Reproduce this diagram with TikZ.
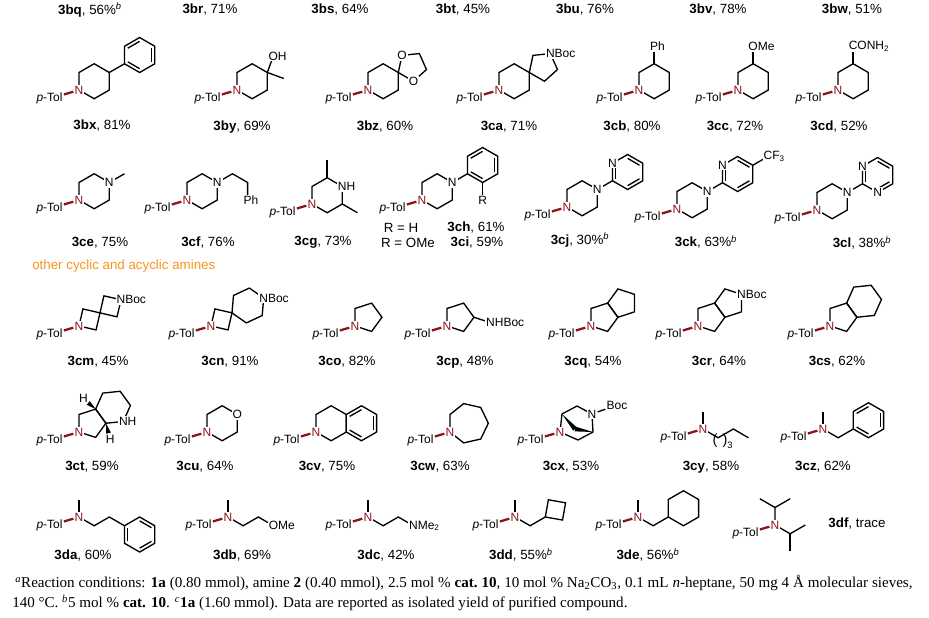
\documentclass[tikz,border=0pt]{standalone}
\usepackage{fontspec}
\setmainfont{Liberation Serif}
\newfontfamily\chemsf{Liberation Sans}
\usetikzlibrary{calc}
\definecolor{nred}{RGB}{140,20,25}
\definecolor{amber}{RGB}{247,148,29}
\def\bl{17.5}
% ring: name, sides, start point, first direction, turn
\newcommand\ring[5]{%
  \pgfmathtruncatemacro\ringlast{#2-1}%
  \draw[bond](#3)coordinate(#1-0) \foreach \k in {1,...,\ringlast}{--++({#4+(\k-1)*(#5)}:\bl)coordinate(#1-\k)}--cycle;
  \path(#1-0)++({#4+(#5)/abs(#5)*(90-180/#2)}:{\bl/(2*sin(180/#2))})coordinate(#1c);}
\newcommand\arom[3]{\draw[bond]($(#1-#2)!.22!(#1c)$)--($(#1-#3)!.22!(#1c)$);}
\newcommand\wdg[2]{\fill(#1)--($(#2)!1.8pt!90:(#1)$)--($(#2)!1.8pt!-90:(#1)$)--cycle;}
\newcommand\tolN[1]{%
  \node[natom](#1N)at(0,0){N};
  \node[atom,fill=none,anchor=east](#1T)at(210:\bl){\textit{p}-Tol};
  \draw[tolbond](#1T)--(#1N);}
\tikzset{
  bond/.style={line width=1pt},
  tolbond/.style={nred,line width=1.7pt},
  atom/.style={font=\chemsf\fontsize{9}{10}\selectfont,inner sep=.8pt,fill=white},
  natom/.style={atom,text=nred},
  lbl/.style={font=\chemsf\fontsize{10}{12}\selectfont,inner sep=0pt},
  note/.style={font=\fontsize{11.3}{13}\selectfont,inner sep=0pt,anchor=west},
  mol/.style={shift={#1},yscale=-1}
}
\begin{document}
\begin{tikzpicture}[x=.75pt,y=-.75pt]
\useasboundingbox(0,0)rectangle(929,618);
%% labels of the row above
\foreach \x/\t in {90/{\textbf{3bq}, 56\%\textsuperscript{\textit{b}}},210/{\textbf{3br}, 71\%},340/{\textbf{3bs}, 64\%},463/{\textbf{3bt}, 45\%},585/{\textbf{3bu}, 76\%},718/{\textbf{3bv}, 78\%},852/{\textbf{3bw}, 51\%}}
  \node[lbl](top\x)at(\x,10){\t};

%% row 1
\begin{scope}[mol={(79,90)}]
\ring{bxr}{6}{0,0}{90}{-60}
\draw[bond](bxr-3)--++(30:\bl)coordinate(bxi);
\ring{bxp}{6}{bxi}{90}{-60}\arom{bxp}{1}{2}\arom{bxp}{3}{4}\arom{bxp}{5}{0}
\tolN{bx}
\end{scope}
\begin{scope}[mol={(237,90)}]
\ring{byr}{6}{0,0}{90}{-60}
\draw[bond](byr-3)--++(70:\bl)coordinate(byo);
\draw[bond](byr-3)--++(-20:\bl);
\node[atom](byO)at(byo){O\rlap{H}};
\tolN{by}
\end{scope}
\begin{scope}[mol={(368,90)}]
\ring{bzr}{6}{0,0}{90}{-60}
\ring{bzd}{5}{bzr-3}{78}{-72}
\node[atom](bzO1)at(bzd-1){O};
\node[atom](bzO2)at(bzd-4){O};
\tolN{bz}
\end{scope}
\begin{scope}[mol={(499,90)}]
\ring{car}{6}{0,0}{90}{-60}
\ring{cap}{5}{car-3}{78}{-72}
\node[atom](caB)at(cap-2){N\rlap{Boc}};
\tolN{ca}
\end{scope}
\begin{scope}[mol={(639,90)}]
\ring{cbr}{6}{0,0}{90}{-60}
\draw[bond](cbr-2)--++(90:\bl)coordinate(cbs);
\node[atom](cbPh)at(cbs){P\rlap{h}};
\tolN{cb}
\end{scope}
\begin{scope}[mol={(738,90)}]
\ring{ccr}{6}{0,0}{90}{-60}
\draw[bond](ccr-2)--++(90:\bl)coordinate(ccs);
\node[atom](ccO)at(ccs){O\rlap{Me}};
\tolN{cc}
\end{scope}
\begin{scope}[mol={(838,90)}]
\ring{cdr}{6}{0,0}{90}{-60}
\draw[bond](cdr-2)--++(90:\bl)coordinate(cds);
\node[atom](cdC)at(cds){C\rlap{ONH\textsubscript{2}}};
\tolN{cd}
\end{scope}
\node[lbl](lbx)at(102,126){\textbf{3bx}, 81\%};
\node[lbl](lby)at(242,127){\textbf{3by}, 69\%};
\node[lbl](lbz)at(385,127){\textbf{3bz}, 60\%};
\node[lbl](lca)at(509,127){\textbf{3ca}, 71\%};
\node[lbl](lcb)at(632,127){\textbf{3cb}, 80\%};
\node[lbl](lcc)at(735,127){\textbf{3cc}, 72\%};
\node[lbl](lcd)at(839,127){\textbf{3cd}, 52\%};

%% row 2
\begin{scope}[mol={(79,200)}]
\ring{cer}{6}{0,0}{90}{-60}
\draw[bond](cer-3)--++(30:\bl);
\node[atom](ceN2)at(cer-3){N};
\tolN{ce}
\end{scope}
\begin{scope}[mol={(187,200)}]
\ring{cfr}{6}{0,0}{90}{-60}
\draw[bond](cfr-3)--++(30:\bl)--++(-30:\bl)--++(-90:\bl)coordinate(cfp);
\node[atom](cfN2)at(cfr-3){N};
\node[atom](cfPh)at(cfp){P\rlap{h}};
\tolN{cf}
\end{scope}
\begin{scope}[mol={(312,204)}]
\ring{cgr}{6}{0,0}{90}{-60}
\draw[bond](cgr-2)--++(90:\bl);
\draw[bond](cgr-4)--++(-30:\bl);
\node[atom](cgN2)at(cgr-3){N\rlap{H}};
\tolN{cg}
\end{scope}
\begin{scope}[mol={(422,200)}]
\ring{chr}{6}{0,0}{90}{-60}
\draw[bond](chr-3)--++(30:\bl)coordinate(chi);
\ring{cha}{6}{chi}{90}{-60}\arom{cha}{1}{2}\arom{cha}{3}{4}\arom{cha}{5}{0}
\draw[bond](cha-5)--++(-90:\bl)coordinate(chs);
\node[atom](chN2)at(chr-3){N};
\node[atom](chR)at(chs){R};
\tolN{ch}
\end{scope}
\begin{scope}[mol={(567,207)}]
\ring{cjr}{6}{0,0}{90}{-60}
\draw[bond](cjr-3)--++(30:\bl)coordinate(cji);
\ring{cja}{6}{cji}{90}{-60}\arom{cja}{0}{1}\arom{cja}{2}{3}\arom{cja}{4}{5}
\node[atom](cjN2)at(cjr-3){N};
\node[atom](cjN3)at(cja-1){N};
\tolN{cj}
\end{scope}
\begin{scope}[mol={(677,209)}]
\ring{ckr}{6}{0,0}{90}{-60}
\draw[bond](ckr-3)--++(30:\bl)coordinate(cki);
\ring{cka}{6}{cki}{90}{-60}\arom{cka}{0}{1}\arom{cka}{2}{3}\arom{cka}{4}{5}
\draw[bond](cka-3)--++(30:\bl)coordinate(ckf);
\node[atom](ckN2)at(ckr-3){N};
\node[atom](ckN3)at(cka-1){N};
\node[atom](ckC)at(ckf){C\rlap{F\textsubscript{3}}};
\tolN{ck}
\end{scope}
\begin{scope}[mol={(817,210)}]
\ring{clr}{6}{0,0}{90}{-60}
\draw[bond](clr-3)--++(30:\bl)coordinate(cli);
\ring{cla}{6}{cli}{90}{-60}\arom{cla}{0}{1}\arom{cla}{2}{3}\arom{cla}{4}{5}
\node[atom](clN2)at(clr-3){N};
\node[atom](clN3)at(cla-1){N};
\node[atom](clN4)at(cla-5){N};
\tolN{cl}
\end{scope}
\node[lbl](lce)at(100,243){\textbf{3ce}, 75\%};
\node[lbl](lcf)at(208,243){\textbf{3cf}, 76\%};
\node[lbl](lcg)at(323,242){\textbf{3cg}, 73\%};
\node[lbl](rh)at(401,228){R = H};
\node[lbl](rome)at(408,243){R = OMe};
\node[lbl](lch)at(476,228){\textbf{3ch}, 61\%};
\node[lbl](lci)at(477,243){\textbf{3ci}, 59\%};
\node[lbl](lcj)at(580,240){\textbf{3cj}, 30\%\textsuperscript{\textit{b}}};
\node[lbl](lck)at(706,242){\textbf{3ck}, 63\%\textsuperscript{\textit{b}}};
\node[lbl](lcl)at(862,243){\textbf{3cl}, 38\%\textsuperscript{\textit{b}}};

\node[lbl,text=amber,anchor=west](head)at(32,266){other cyclic and acyclic amines};

%% row 3
\begin{scope}[mol={(79,326)}]
\ring{cma}{4}{0,0}{77}{-90}
\ring{cmb}{4}{cma-2}{77}{-90}
\node[atom](cmB)at(cmb-2){N\rlap{Boc}};
\tolN{cm}
\end{scope}
\begin{scope}[mol={(211,326)}]
\ring{cna}{4}{0,0}{77}{-90}
\ring{cnb}{6}{cna-2}{85}{-60}
\node[atom](cnB)at(cnb-3){N\rlap{Boc}};
\tolN{cn}
\end{scope}
\begin{scope}[mol={(355,326)}]
\ring{cop}{5}{0,0}{90}{-72}
\tolN{co}
\end{scope}
\begin{scope}[mol={(447,326)}]
\ring{cpp}{5}{0,0}{90}{-72}
\draw[bond](cpp-3)--++(-18:\bl)coordinate(cps);
\node[atom](cpB)at(cps){N\rlap{HBoc}};
\tolN{cp}
\end{scope}
\begin{scope}[mol={(591,326)}]
\ring{cqa}{5}{0,0}{90}{-72}
\ring{cqb}{5}{cqa-3}{126}{-72}
\tolN{cq}
\end{scope}
\begin{scope}[mol={(698,326)}]
\ring{cra}{5}{0,0}{90}{-72}
\ring{crb}{5}{cra-3}{126}{-72}
\node[atom](crB)at(crb-3){N\rlap{Boc}};
\tolN{cr}
\end{scope}
\begin{scope}[mol={(830,326)}]
\ring{csa}{5}{0,0}{90}{-72}
\ring{csb}{6}{csa-3}{126}{-60}
\tolN{cs}
\end{scope}
\node[lbl](lcm)at(98,362){\textbf{3cm}, 45\%};
\node[lbl](lcn)at(230,362){\textbf{3cn}, 91\%};
\node[lbl](lco)at(347,362){\textbf{3co}, 82\%};
\node[lbl](lcp)at(465,362){\textbf{3cp}, 48\%};
\node[lbl](lcq)at(593,362){\textbf{3cq}, 54\%};
\node[lbl](lcr)at(719,362){\textbf{3cr}, 64\%};
\node[lbl](lcs)at(837,362){\textbf{3cs}, 62\%};

%% row 4
\begin{scope}[mol={(79,432)}]
\ring{cta}{5}{0,0}{90}{-72}
\ring{ctb}{6}{cta-3}{126}{-60}
\path(cta-2)++(140:16)coordinate(cth1);
\path(cta-3)++(-75:17)coordinate(cth2);
\wdg{cta-2}{$(cta-2)!.6!(cth1)$}
\wdg{cta-3}{$(cta-3)!.6!(cth2)$}
\node[atom,fill=none](ctH1)at(cth1){H};
\node[atom,fill=none](ctH2)at(cth2){H};
\node[atom](ctN2)at(ctb-5){N\rlap{H}};
\tolN{ct}
\end{scope}
\begin{scope}[mol={(207,432)}]
\ring{cur}{6}{0,0}{90}{-60}
\node[atom](cuO)at(cur-3){O};
\tolN{cu}
\end{scope}
\begin{scope}[mol={(316,432)}]
\ring{cvr}{6}{0,0}{90}{-60}
\ring{cvb}{6}{cvr-4}{90}{-60}\arom{cvb}{1}{2}\arom{cvb}{3}{4}\arom{cvb}{5}{0}
\tolN{cv}
\end{scope}
\begin{scope}[mol={(450,432)}]
\ring{cwr}{7}{0,0}{90}{-360/7}
\tolN{cw}
\end{scope}
\begin{scope}[mol={(560,432)}]
\coordinate(cx1)at(2,18);\coordinate(cx2)at(17,26);\coordinate(cx3)at(32,18);
\coordinate(cx4)at(33,0);\coordinate(cx5)at(18,-8);\coordinate(cx6)at(15,3);
\draw[bond](0,0)--(cx1)--(cx2)--(cx3)--(cx4)--(cx5)--cycle;
\wdg{cx1}{cx6}\wdg{cx4}{cx6}
\node[atom](cxN2)at(cx3){N};
\node[atom](cxB)at(57,27){Boc};
\draw[bond](cxN2)--(cxB);
\tolN{cx}
\end{scope}
\begin{scope}[mol={(703,429)}]
\draw[bond](0,0)--++(90:\bl);
\draw[bond](0,0)--++(-30:\bl)coordinate(cy1)--++(30:\bl)coordinate(cy2)--++(-30:\bl);
\node[lbl,inner sep=0pt,font=\chemsf\fontsize{11}{12}\selectfont](cyl)at(12,-12){(};
\node[lbl,inner sep=0pt,font=\chemsf\fontsize{11}{12}\selectfont](cyr)at(22,-12){)};
\node[atom,fill=none,font=\chemsf\fontsize{7}{8}\selectfont](cyn)at(27,-16){3};
\tolN{cy}
\end{scope}
\begin{scope}[mol={(823,429)}]
\draw[bond](0,0)--++(90:\bl);
\draw[bond](0,0)--++(-30:\bl)--++(30:\bl)coordinate(czi);
\ring{czp}{6}{czi}{90}{-60}\arom{czp}{1}{2}\arom{czp}{3}{4}\arom{czp}{5}{0}
\tolN{cz}
\end{scope}
\node[lbl](lct)at(92,467){\textbf{3ct}, 59\%};
\node[lbl](lcu)at(205,467){\textbf{3cu}, 64\%};
\node[lbl](lcv)at(327,467){\textbf{3cv}, 75\%};
\node[lbl](lcw)at(440,467){\textbf{3cw}, 63\%};
\node[lbl](lcx)at(571,467){\textbf{3cx}, 53\%};
\node[lbl](lcy)at(711,467){\textbf{3cy}, 58\%};
\node[lbl](lcz)at(823,467){\textbf{3cz}, 62\%};

%% row 5
\begin{scope}[mol={(79,517)}]
\draw[bond](0,0)--++(90:\bl);
\draw[bond](0,0)--++(-30:\bl)--++(30:\bl)--++(-30:\bl)coordinate(dai);
\ring{dap}{6}{dai}{30}{-60}\arom{dap}{1}{2}\arom{dap}{3}{4}\arom{dap}{5}{0}
\tolN{da}
\end{scope}
\begin{scope}[mol={(228,517)}]
\draw[bond](0,0)--++(90:\bl);
\draw[bond](0,0)--++(-30:\bl)--++(30:\bl)--++(-30:\bl)coordinate(dbo);
\node[atom](dbO)at(dbo){O\rlap{Me}};
\tolN{db}
\end{scope}
\begin{scope}[mol={(368,517)}]
\draw[bond](0,0)--++(90:\bl);
\draw[bond](0,0)--++(-30:\bl)--++(30:\bl)--++(-30:\bl)coordinate(dcn);
\node[atom](dcN2)at(dcn){N\rlap{Me\textsubscript{2}}};
\tolN{dc}
\end{scope}
\begin{scope}[mol={(515,517)}]
\draw[bond](0,0)--++(90:\bl);
\draw[bond](0,0)--++(-30:\bl)--++(30:\bl)coordinate(ddc);
\ring{ddq}{4}{ddc}{80}{-90}
\tolN{dd}
\end{scope}
\begin{scope}[mol={(638,517)}]
\draw[bond](0,0)--++(90:\bl);
\draw[bond](0,0)--++(-30:\bl)--++(30:\bl)coordinate(dec);
\ring{deh}{6}{dec}{90}{-60}
\tolN{de}
\end{scope}
\begin{scope}[mol={(775,525)}]
\draw[bond](0,0)--++(90:\bl)coordinate(dfa)--++(150:\bl);
\draw[bond](dfa)--++(30:\bl);
\draw[bond](0,0)--++(-30:\bl)coordinate(dfb)--++(30:\bl);
\draw[bond](dfb)--++(-90:\bl);
\tolN{df}
\end{scope}
\node[lbl](lda)at(83,556){\textbf{3da}, 60\%};
\node[lbl](ldb)at(242,556){\textbf{3db}, 69\%};
\node[lbl](ldc)at(386,556){\textbf{3dc}, 42\%};
\node[lbl](ldd)at(521,555){\textbf{3dd}, 55\%\textsuperscript{\textit{b}}};
\node[lbl](lde)at(648,555){\textbf{3de}, 56\%\textsuperscript{\textit{b}}};
\node[lbl](ldf)at(857,524){\textbf{3df}, trace};

%% footnote
\node[note](fn1)at(15,583){\makebox[673pt][s]{\textsuperscript{\textit{a}}Reaction conditions: \textbf{1a} (0.80 mmol), amine \textbf{2} (0.40 mmol), 2.5 mol \% \textbf{cat.~10}, 10 mol \% Na\textsubscript{2}CO\textsubscript{3}, 0.1 mL \textit{n}-heptane, 50 mg 4 Å molecular sieves,}};
\node[note](fn2)at(12,603){140 °C. \textsuperscript{\textit{b}}5 mol \% \textbf{cat. 10}. \textsuperscript{\textit{c}}\textbf{1a} (1.60 mmol). Data are reported as isolated yield of purified compound.};
\end{tikzpicture}
\end{document}
